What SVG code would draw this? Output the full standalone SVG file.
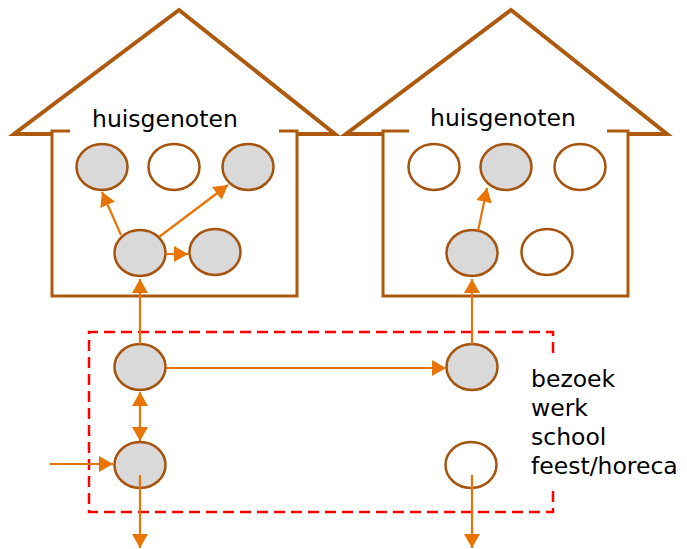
<svg xmlns="http://www.w3.org/2000/svg" width="687" height="549" viewBox="0 0 687 549">
  <style>
    .roof { fill: none; stroke: #AD5A0F; stroke-width: 4; stroke-linejoin: miter; }
    .wall { fill: none; stroke: #AD5A0F; stroke-width: 3; }
    .node { stroke: #A5530D; stroke-width: 2.5; }
    .on { fill: #D9D9D9; }
    .off { fill: #FFFFFF; }
    .arr { stroke: #E87503; stroke-width: 2.2; fill: none; marker-end: url(#ah); }
    .dbl { marker-start: url(#ah); }
    .txt { font-family: "DejaVu Sans", Verdana, sans-serif; font-size: 23.5px; fill: #000000; }
    .zone { fill: none; stroke: #FF0000; stroke-width: 2.5; stroke-dasharray: 11 6; }
  </style>
  <defs>
    <marker id="ah" markerUnits="userSpaceOnUse" viewBox="0 0 14 16" markerWidth="14" markerHeight="16" refX="14" refY="8" orient="auto-start-reverse">
      <path d="M0,0 L14,8 L0,16 Z" fill="#E87503"/>
    </marker>
  </defs>

  <g id="house-left">
    <path class="roof" d="M52,134 H14 L179,10 L335,134 H297"/>
    <path class="wall" d="M70,131 H52 V296 H297 V131 H279"/>
    <text class="txt" x="92" y="127">huisgenoten</text>
  </g>
  <g id="house-right">
    <path class="roof" d="M383,134 H346 L511,10 L667,134 H628"/>
    <path class="wall" d="M409,131 H383 V296 H628 V131 H607"/>
    <text class="txt" x="430" y="125.5">huisgenoten</text>
  </g>

  <g id="zone">
    <path class="zone" d="M553,353 V332 H89 V512 H553 V490"/>
    <text class="txt" x="531" y="387">bezoek</text>
    <text class="txt" x="531" y="416">werk</text>
    <text class="txt" x="531" y="445">school</text>
    <text class="txt" x="531" y="474">feest/horeca</text>
  </g>

  <g id="nodes-left-house">
    <ellipse id="lh1" class="node on" cx="102" cy="167" rx="25.5" ry="23"/>
    <ellipse id="lh2" class="node off" cx="174" cy="167" rx="25.5" ry="23"/>
    <ellipse id="lh3" class="node on" cx="248" cy="167" rx="25.5" ry="23"/>
    <ellipse id="lh4" class="node on" cx="140" cy="253" rx="25.5" ry="23"/>
    <ellipse id="lh5" class="node on" cx="215" cy="252" rx="25.5" ry="23"/>
  </g>
  <g id="nodes-right-house">
    <ellipse id="rh1" class="node off" cx="434" cy="167" rx="25.5" ry="23"/>
    <ellipse id="rh2" class="node on" cx="506" cy="167" rx="25.5" ry="23"/>
    <ellipse id="rh3" class="node off" cx="580" cy="167" rx="25.5" ry="23"/>
    <ellipse id="rh4" class="node on" cx="472" cy="253" rx="25.5" ry="23"/>
    <ellipse id="rh5" class="node off" cx="547" cy="252" rx="25.5" ry="23"/>
  </g>
  <g id="nodes-outside">
    <ellipse id="oA" class="node on" cx="140" cy="367" rx="25.5" ry="23"/>
    <ellipse id="oB" class="node on" cx="472" cy="367" rx="25.5" ry="23"/>
    <ellipse id="oC" class="node on" cx="140" cy="465" rx="25.5" ry="23"/>
    <ellipse id="oD" class="node off" cx="471" cy="465" rx="25.5" ry="23"/>
  </g>

  <g id="connectors">
    <line class="arr" x1="121" y1="235" x2="102" y2="192"/>
    <line class="arr" x1="159" y1="237" x2="228" y2="185"/>
    <line class="arr" x1="166" y1="254" x2="188" y2="254"/>
    <line class="arr" x1="140" y1="344" x2="140" y2="279"/>
    <line class="arr" x1="478" y1="231" x2="487" y2="188"/>
    <line class="arr" x1="472" y1="344" x2="472" y2="279"/>
    <line class="arr" x1="166" y1="368" x2="446" y2="368"/>
    <line class="arr dbl" x1="140" y1="392" x2="140" y2="441"/>
    <line class="arr" x1="50" y1="464" x2="113" y2="464"/>
    <line class="arr" x1="140" y1="475" x2="140" y2="548"/>
    <line class="arr" x1="472" y1="475" x2="472" y2="548"/>
  </g>
</svg>
